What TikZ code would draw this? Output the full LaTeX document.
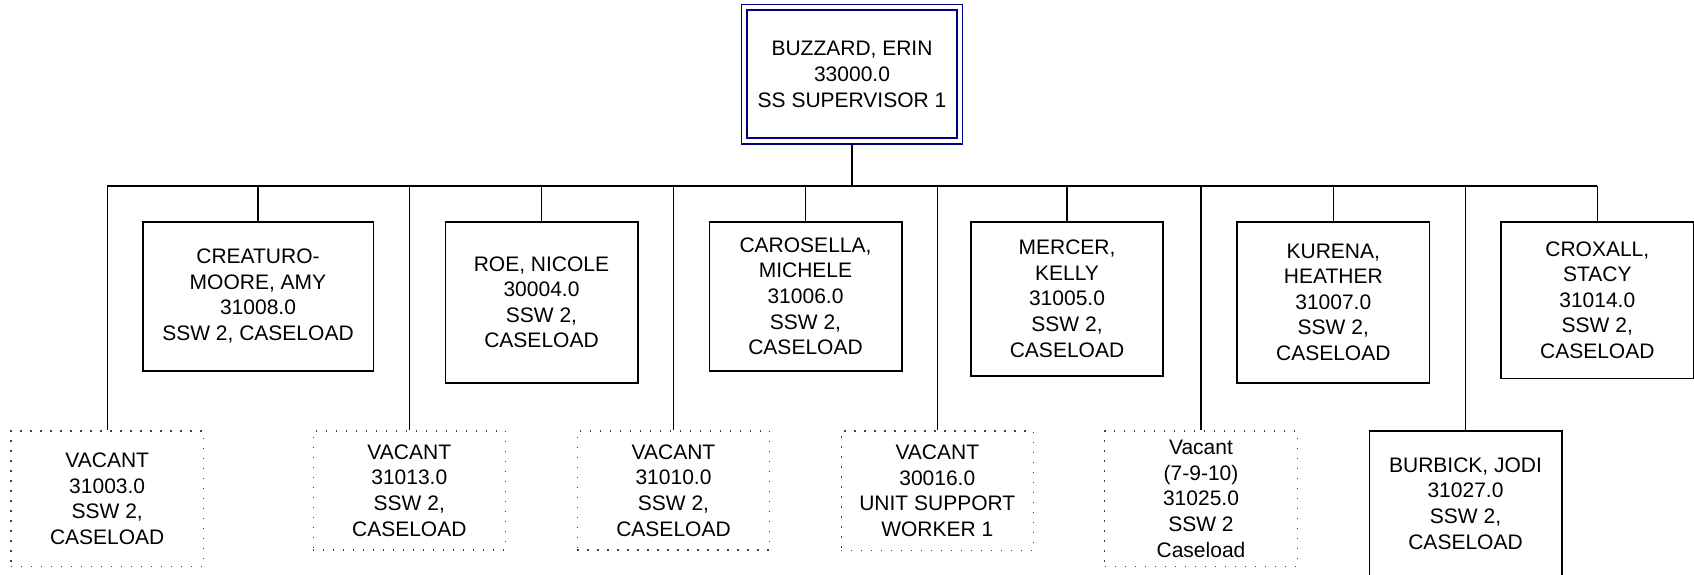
\documentclass[tikz,border=0pt]{standalone}
\usepackage{fontspec}
\setmainfont{Liberation Sans}
\definecolor{navyb}{RGB}{0,0,128}
\begin{document}
\begin{tikzpicture}[x=1pt,y=-1pt,
  every node/.style={font=\fontsize{21}{25.6}\selectfont, align=center, inner sep=0pt},
  solidbox/.style={draw=black, line width=1.6pt, minimum width=192.4pt},
  dotbox/.style={draw=black!75, line width=1.2pt, dash pattern=on 1.2pt off 8.8pt, minimum width=192.4pt},
  link/.style={line width=1.3pt},
  busline/.style={line width=1.7pt},
  mainlink/.style={line width=2.6pt}
]
\useasboundingbox (0,0) rectangle (1694,574);
\clip (0,0) rectangle (1694,574);

% top
\node[draw=navyb, line width=2pt, minimum width=209.4pt, minimum height=128pt] (top) at (852,74.3)
  {BUZZARD, ERIN\\33000.0\\SS SUPERVISOR 1};
\draw[navyb, line width=1.2pt] ([xshift=-4.6pt,yshift=4.6pt]top.north west) rectangle ([xshift=4.6pt,yshift=-4.6pt]top.south east);

\coordinate (busL) at (106.7,186);
\coordinate (busR) at (1597.3,186);
\coordinate (topout) at ([yshift=-4.6pt]top.south);

% first row
\node[solidbox, minimum width=230.6pt, minimum height=149pt] (cre) at (258,296.2) {CREATURO-\\MOORE, AMY\\31008.0\\SSW 2, CASELOAD};
\node[solidbox, minimum height=161pt] (roe) at (541.5,302.2) {ROE, NICOLE\\30004.0\\SSW 2,\\CASELOAD};
\node[solidbox, minimum height=149pt] (car) at (805.5,296.2) {CAROSELLA,\\MICHELE\\31006.0\\SSW 2,\\CASELOAD};
\node[solidbox, minimum height=154pt] (mer) at (1067,298.7) {MERCER,\\KELLY\\31005.0\\SSW 2,\\CASELOAD};
\node[solidbox, minimum height=161pt] (kur) at (1333.3,302.2) {KURENA,\\HEATHER\\31007.0\\SSW 2,\\CASELOAD};
\node[solidbox, minimum height=156.6pt] (cro) at (1597.3,300) {CROXALL,\\STACY\\31014.0\\SSW 2,\\CASELOAD};

% second row
\node[dotbox, minimum height=135.7pt] (v03) at (107.2,498.8) {VACANT\\31003.0\\SSW 2,\\CASELOAD};
\node[dotbox, minimum height=119pt] (v13) at (409.3,490.5) {VACANT\\31013.0\\SSW 2,\\CASELOAD};
\node[dotbox, minimum height=119pt] (v10) at (673.5,490.5) {VACANT\\31010.0\\SSW 2,\\CASELOAD};
\node[dotbox, minimum height=119.7pt] (v16) at (937.3,490.8) {VACANT\\30016.0\\UNIT SUPPORT\\WORKER 1};
\node[dotbox, minimum height=135.7pt] (v25) at (1201,498.8) {Vacant\\(7-9-10)\\31025.0\\SSW 2\\Caseload};
\node[solidbox, minimum height=145pt] (bur) at (1465.5,503.5) {BURBICK, JODI\\31027.0\\SSW 2,\\CASELOAD};

% connectors
\draw[mainlink] (topout) -- (topout |- busL);
\draw[busline] (busL) -- (busR);
\foreach \n in {cre,roe,car,mer,kur,cro,v03,v13,v10,v16,v25,bur}
  \draw[link] (\n.north) -- (\n.north |- busL);
\end{tikzpicture}
\end{document}
